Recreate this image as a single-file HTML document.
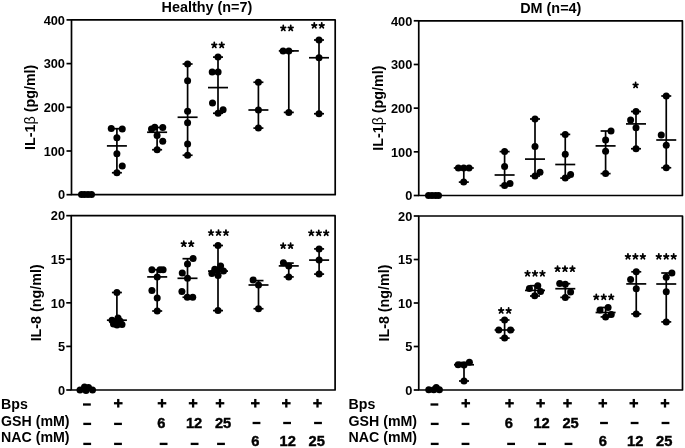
<!DOCTYPE html>
<html><head><meta charset="utf-8"><style>
html,body{margin:0;padding:0;background:#fff;}
svg{display:block;will-change:transform;}
text{font-family:"Liberation Sans",sans-serif;font-weight:bold;fill:#000;}
line{stroke:#000;stroke-linecap:butt;}
</style></head><body>
<svg width="685" height="448" viewBox="0 0 685 448">
<rect width="685" height="448" fill="#fff"/>
<rect x="71.5" y="19.9" width="263.7" height="174.8" fill="none" stroke="#000" stroke-width="1.7" stroke-linejoin="round"/>
<line x1="66.5" y1="194.7" x2="71.5" y2="194.7" stroke-width="1.7"/>
<text x="65" y="199.4" font-size="12.8" text-anchor="end" >0</text>
<line x1="66.5" y1="151" x2="71.5" y2="151" stroke-width="1.7"/>
<text x="65" y="155.7" font-size="12.8" text-anchor="end" >100</text>
<line x1="66.5" y1="107.3" x2="71.5" y2="107.3" stroke-width="1.7"/>
<text x="65" y="112" font-size="12.8" text-anchor="end" >200</text>
<line x1="66.5" y1="63.6" x2="71.5" y2="63.6" stroke-width="1.7"/>
<text x="65" y="68.3" font-size="12.8" text-anchor="end" >300</text>
<line x1="66.5" y1="19.9" x2="71.5" y2="19.9" stroke-width="1.7"/>
<text x="65" y="24.6" font-size="12.8" text-anchor="end" >400</text>
<text x="35.5" y="107.3" font-size="14.3" text-anchor="middle" transform="rotate(-90 35.5 107.3)">IL-1<tspan style="font-weight:normal">β</tspan> (pg/ml)</text>
<rect x="418.75" y="20.8" width="263.65" height="174.7" fill="none" stroke="#000" stroke-width="1.7" stroke-linejoin="round"/>
<line x1="413.75" y1="195.5" x2="418.75" y2="195.5" stroke-width="1.7"/>
<text x="412.3" y="200.2" font-size="12.8" text-anchor="end" >0</text>
<line x1="413.75" y1="151.82" x2="418.75" y2="151.82" stroke-width="1.7"/>
<text x="412.3" y="156.52" font-size="12.8" text-anchor="end" >100</text>
<line x1="413.75" y1="108.15" x2="418.75" y2="108.15" stroke-width="1.7"/>
<text x="412.3" y="112.85" font-size="12.8" text-anchor="end" >200</text>
<line x1="413.75" y1="64.48" x2="418.75" y2="64.48" stroke-width="1.7"/>
<text x="412.3" y="69.18" font-size="12.8" text-anchor="end" >300</text>
<line x1="413.75" y1="20.8" x2="418.75" y2="20.8" stroke-width="1.7"/>
<text x="412.3" y="25.5" font-size="12.8" text-anchor="end" >400</text>
<text x="382.8" y="108.15" font-size="14.3" text-anchor="middle" transform="rotate(-90 382.8 108.15)">IL-1<tspan style="font-weight:normal">β</tspan> (pg/ml)</text>
<rect x="71.25" y="215.65" width="263.85" height="174.35" fill="none" stroke="#000" stroke-width="1.7" stroke-linejoin="round"/>
<line x1="66.25" y1="390" x2="71.25" y2="390" stroke-width="1.7"/>
<text x="65" y="394.7" font-size="12.8" text-anchor="end" >0</text>
<line x1="66.25" y1="346.41" x2="71.25" y2="346.41" stroke-width="1.7"/>
<text x="65" y="351.11" font-size="12.8" text-anchor="end" >5</text>
<line x1="66.25" y1="302.82" x2="71.25" y2="302.82" stroke-width="1.7"/>
<text x="65" y="307.52" font-size="12.8" text-anchor="end" >10</text>
<line x1="66.25" y1="259.24" x2="71.25" y2="259.24" stroke-width="1.7"/>
<text x="65" y="263.94" font-size="12.8" text-anchor="end" >15</text>
<line x1="66.25" y1="215.65" x2="71.25" y2="215.65" stroke-width="1.7"/>
<text x="65" y="220.35" font-size="12.8" text-anchor="end" >20</text>
<text x="41.5" y="302.82" font-size="14.3" text-anchor="middle" transform="rotate(-90 41.5 302.82)">IL-8 (ng/ml)</text>
<rect x="418.75" y="216" width="263.75" height="174" fill="none" stroke="#000" stroke-width="1.7" stroke-linejoin="round"/>
<line x1="413.75" y1="390" x2="418.75" y2="390" stroke-width="1.7"/>
<text x="412.3" y="394.7" font-size="12.8" text-anchor="end" >0</text>
<line x1="413.75" y1="346.5" x2="418.75" y2="346.5" stroke-width="1.7"/>
<text x="412.3" y="351.2" font-size="12.8" text-anchor="end" >5</text>
<line x1="413.75" y1="303" x2="418.75" y2="303" stroke-width="1.7"/>
<text x="412.3" y="307.7" font-size="12.8" text-anchor="end" >10</text>
<line x1="413.75" y1="259.5" x2="418.75" y2="259.5" stroke-width="1.7"/>
<text x="412.3" y="264.2" font-size="12.8" text-anchor="end" >15</text>
<line x1="413.75" y1="216" x2="418.75" y2="216" stroke-width="1.7"/>
<text x="412.3" y="220.7" font-size="12.8" text-anchor="end" >20</text>
<text x="388.8" y="303" font-size="14.3" text-anchor="middle" transform="rotate(-90 388.8 303)">IL-8 (ng/ml)</text>
<text x="161.5" y="12" font-size="14.4" text-anchor="start" >Healthy (n=7)</text>
<text x="520.2" y="13.1" font-size="14.4" text-anchor="start" >DM (n=4)</text>
<circle cx="81.5" cy="194.4" r="3.5"/>
<circle cx="84.5" cy="194.4" r="3.5"/>
<circle cx="88" cy="194.4" r="3.5"/>
<circle cx="91.5" cy="194.4" r="3.5"/>
<line x1="116.9" y1="128.7" x2="116.9" y2="172.75" stroke-width="1.7"/>
<line x1="111.9" y1="128.7" x2="121.9" y2="128.7" stroke-width="1.7"/>
<line x1="111.9" y1="172.75" x2="121.9" y2="172.75" stroke-width="1.7"/>
<line x1="106.9" y1="145.9" x2="126.9" y2="145.9" stroke-width="1.7"/>
<circle cx="111.25" cy="128.5" r="3.5"/>
<circle cx="122.25" cy="129" r="3.5"/>
<circle cx="116.9" cy="137.75" r="3.5"/>
<circle cx="116.9" cy="153.75" r="3.5"/>
<circle cx="122.25" cy="166" r="3.5"/>
<circle cx="116.9" cy="172.75" r="3.5"/>
<line x1="157.1" y1="127.5" x2="157.1" y2="149.75" stroke-width="1.7"/>
<line x1="152.1" y1="127.5" x2="162.1" y2="127.5" stroke-width="1.7"/>
<line x1="152.1" y1="149.75" x2="162.1" y2="149.75" stroke-width="1.7"/>
<line x1="147.1" y1="132.25" x2="167.1" y2="132.25" stroke-width="1.7"/>
<circle cx="151.5" cy="129" r="3.5"/>
<circle cx="154.75" cy="127.25" r="3.5"/>
<circle cx="162.75" cy="127.5" r="3.5"/>
<circle cx="157.1" cy="135.6" r="3.5"/>
<circle cx="162.75" cy="141.25" r="3.5"/>
<circle cx="157.1" cy="149.75" r="3.5"/>
<line x1="187.6" y1="64" x2="187.6" y2="155.25" stroke-width="1.7"/>
<line x1="182.6" y1="64" x2="192.6" y2="64" stroke-width="1.7"/>
<line x1="182.6" y1="155.25" x2="192.6" y2="155.25" stroke-width="1.7"/>
<line x1="177.6" y1="117.25" x2="197.6" y2="117.25" stroke-width="1.7"/>
<circle cx="187.6" cy="64" r="3.5"/>
<circle cx="187.6" cy="80.75" r="3.5"/>
<circle cx="187.6" cy="111.3" r="3.5"/>
<circle cx="187.6" cy="122.75" r="3.5"/>
<circle cx="187.6" cy="144" r="3.5"/>
<circle cx="187.6" cy="155.25" r="3.5"/>
<line x1="218" y1="57.1" x2="218" y2="113.25" stroke-width="1.7"/>
<line x1="213" y1="57.1" x2="223" y2="57.1" stroke-width="1.7"/>
<line x1="213" y1="113.25" x2="223" y2="113.25" stroke-width="1.7"/>
<line x1="208" y1="87.6" x2="228" y2="87.6" stroke-width="1.7"/>
<circle cx="218" cy="57.1" r="3.5"/>
<circle cx="212.2" cy="72" r="3.5"/>
<circle cx="218.1" cy="72" r="3.5"/>
<circle cx="212.5" cy="103.1" r="3.5"/>
<circle cx="223.1" cy="109.75" r="3.5"/>
<circle cx="218.1" cy="113.25" r="3.5"/>
<line x1="258.4" y1="82.25" x2="258.4" y2="128.1" stroke-width="1.7"/>
<line x1="253.4" y1="82.25" x2="263.4" y2="82.25" stroke-width="1.7"/>
<line x1="253.4" y1="128.1" x2="263.4" y2="128.1" stroke-width="1.7"/>
<line x1="248.4" y1="110" x2="268.4" y2="110" stroke-width="1.7"/>
<circle cx="258.4" cy="82.25" r="3.5"/>
<circle cx="258.4" cy="110" r="3.5"/>
<circle cx="258.4" cy="128.1" r="3.5"/>
<line x1="288.8" y1="50.9" x2="288.8" y2="112.4" stroke-width="1.7"/>
<line x1="283.8" y1="50.9" x2="293.8" y2="50.9" stroke-width="1.7"/>
<line x1="283.8" y1="112.4" x2="293.8" y2="112.4" stroke-width="1.7"/>
<line x1="278.8" y1="50.9" x2="298.8" y2="50.9" stroke-width="1.7"/>
<circle cx="283.1" cy="50.9" r="3.5"/>
<circle cx="288.8" cy="50.9" r="3.5"/>
<circle cx="288.8" cy="112.4" r="3.5"/>
<line x1="319" y1="40" x2="319" y2="113.75" stroke-width="1.7"/>
<line x1="314" y1="40" x2="324" y2="40" stroke-width="1.7"/>
<line x1="314" y1="113.75" x2="324" y2="113.75" stroke-width="1.7"/>
<line x1="309" y1="57.75" x2="329" y2="57.75" stroke-width="1.7"/>
<circle cx="319" cy="40" r="3.5"/>
<circle cx="319" cy="57.75" r="3.5"/>
<circle cx="319" cy="113.75" r="3.5"/>
<path d="M214.28 45.2L214.28 42.45M214.28 45.2L216.61 44.44M214.28 45.2L215.89 47.42M214.28 45.2L212.66 47.42M214.28 45.2L211.94 44.44" stroke="#000" stroke-width="1.75" stroke-linecap="round" fill="none"/>
<path d="M221.72 45.2L221.72 42.45M221.72 45.2L224.06 44.44M221.72 45.2L223.34 47.42M221.72 45.2L220.11 47.42M221.72 45.2L219.39 44.44" stroke="#000" stroke-width="1.75" stroke-linecap="round" fill="none"/>
<path d="M283.27 28.2L283.27 25.45M283.27 28.2L285.61 27.44M283.27 28.2L284.89 30.42M283.27 28.2L281.66 30.42M283.27 28.2L280.94 27.44" stroke="#000" stroke-width="1.75" stroke-linecap="round" fill="none"/>
<path d="M290.73 28.2L290.73 25.45M290.73 28.2L293.06 27.44M290.73 28.2L292.34 30.42M290.73 28.2L289.11 30.42M290.73 28.2L288.39 27.44" stroke="#000" stroke-width="1.75" stroke-linecap="round" fill="none"/>
<path d="M314.27 25.6L314.27 22.85M314.27 25.6L316.61 24.84M314.27 25.6L315.89 27.82M314.27 25.6L312.66 27.82M314.27 25.6L311.94 24.84" stroke="#000" stroke-width="1.75" stroke-linecap="round" fill="none"/>
<path d="M321.73 25.6L321.73 22.85M321.73 25.6L324.06 24.84M321.73 25.6L323.34 27.82M321.73 25.6L320.11 27.82M321.73 25.6L319.39 24.84" stroke="#000" stroke-width="1.75" stroke-linecap="round" fill="none"/>
<circle cx="428.5" cy="195.6" r="3.5"/>
<circle cx="432" cy="195.6" r="3.5"/>
<circle cx="435.5" cy="195.6" r="3.5"/>
<circle cx="438.5" cy="195.6" r="3.5"/>
<line x1="463.8" y1="168" x2="463.8" y2="182.1" stroke-width="1.7"/>
<line x1="458.8" y1="168" x2="468.8" y2="168" stroke-width="1.7"/>
<line x1="458.8" y1="182.1" x2="468.8" y2="182.1" stroke-width="1.7"/>
<line x1="453.8" y1="168" x2="473.8" y2="168" stroke-width="1.7"/>
<circle cx="458.4" cy="168" r="3.5"/>
<circle cx="463.7" cy="168" r="3.5"/>
<circle cx="469" cy="168" r="3.5"/>
<circle cx="463.7" cy="182.1" r="3.5"/>
<line x1="504.6" y1="151.6" x2="504.6" y2="185.6" stroke-width="1.7"/>
<line x1="499.6" y1="151.6" x2="509.6" y2="151.6" stroke-width="1.7"/>
<line x1="499.6" y1="185.6" x2="509.6" y2="185.6" stroke-width="1.7"/>
<line x1="494.6" y1="175" x2="514.6" y2="175" stroke-width="1.7"/>
<circle cx="504.6" cy="151.6" r="3.5"/>
<circle cx="504.6" cy="166.6" r="3.5"/>
<circle cx="510" cy="183.5" r="3.5"/>
<circle cx="504.6" cy="185.6" r="3.5"/>
<line x1="535" y1="119" x2="535" y2="176" stroke-width="1.7"/>
<line x1="530" y1="119" x2="540" y2="119" stroke-width="1.7"/>
<line x1="530" y1="176" x2="540" y2="176" stroke-width="1.7"/>
<line x1="525" y1="159.1" x2="545" y2="159.1" stroke-width="1.7"/>
<circle cx="535" cy="119" r="3.5"/>
<circle cx="535" cy="146.5" r="3.5"/>
<circle cx="540" cy="172.25" r="3.5"/>
<circle cx="535" cy="176" r="3.5"/>
<line x1="565.25" y1="134.4" x2="565.25" y2="178.1" stroke-width="1.7"/>
<line x1="560.25" y1="134.4" x2="570.25" y2="134.4" stroke-width="1.7"/>
<line x1="560.25" y1="178.1" x2="570.25" y2="178.1" stroke-width="1.7"/>
<line x1="555.25" y1="164.5" x2="575.25" y2="164.5" stroke-width="1.7"/>
<circle cx="565.25" cy="134.4" r="3.5"/>
<circle cx="565.25" cy="154.2" r="3.5"/>
<circle cx="570.6" cy="174.6" r="3.5"/>
<circle cx="565.25" cy="178.1" r="3.5"/>
<line x1="605.6" y1="131" x2="605.6" y2="173.6" stroke-width="1.7"/>
<line x1="600.6" y1="131" x2="610.6" y2="131" stroke-width="1.7"/>
<line x1="600.6" y1="173.6" x2="610.6" y2="173.6" stroke-width="1.7"/>
<line x1="595.6" y1="145.9" x2="615.6" y2="145.9" stroke-width="1.7"/>
<circle cx="611" cy="131" r="3.5"/>
<circle cx="605.6" cy="140" r="3.5"/>
<circle cx="605.6" cy="151.25" r="3.5"/>
<circle cx="605.6" cy="173.6" r="3.5"/>
<line x1="636" y1="111.5" x2="636" y2="148.75" stroke-width="1.7"/>
<line x1="631" y1="111.5" x2="641" y2="111.5" stroke-width="1.7"/>
<line x1="631" y1="148.75" x2="641" y2="148.75" stroke-width="1.7"/>
<line x1="626" y1="123.9" x2="646" y2="123.9" stroke-width="1.7"/>
<circle cx="636" cy="111.5" r="3.5"/>
<circle cx="630.6" cy="119.9" r="3.5"/>
<circle cx="636" cy="127.75" r="3.5"/>
<circle cx="636" cy="148.75" r="3.5"/>
<line x1="666.25" y1="96" x2="666.25" y2="167.75" stroke-width="1.7"/>
<line x1="661.25" y1="96" x2="671.25" y2="96" stroke-width="1.7"/>
<line x1="661.25" y1="167.75" x2="671.25" y2="167.75" stroke-width="1.7"/>
<line x1="656.25" y1="140" x2="676.25" y2="140" stroke-width="1.7"/>
<circle cx="666.25" cy="96" r="3.5"/>
<circle cx="661.25" cy="135" r="3.5"/>
<circle cx="666.25" cy="145.25" r="3.5"/>
<circle cx="666.25" cy="167.75" r="3.5"/>
<path d="M635.6 85.2L635.6 82.45M635.6 85.2L637.93 84.44M635.6 85.2L637.22 87.42M635.6 85.2L633.98 87.42M635.6 85.2L633.27 84.44" stroke="#000" stroke-width="1.75" stroke-linecap="round" fill="none"/>
<circle cx="80" cy="390" r="3.5"/>
<circle cx="84.5" cy="387" r="3.5"/>
<circle cx="88.5" cy="387.5" r="3.5"/>
<circle cx="92.5" cy="390" r="3.5"/>
<circle cx="86" cy="390.5" r="3.5"/>
<line x1="116.9" y1="292.5" x2="116.9" y2="325" stroke-width="1.7"/>
<line x1="111.9" y1="292.5" x2="121.9" y2="292.5" stroke-width="1.7"/>
<line x1="111.9" y1="325" x2="121.9" y2="325" stroke-width="1.7"/>
<line x1="106.9" y1="320.2" x2="126.9" y2="320.2" stroke-width="1.7"/>
<circle cx="116.9" cy="292.5" r="3.5"/>
<circle cx="112" cy="320.3" r="3.5"/>
<circle cx="118" cy="318" r="3.5"/>
<circle cx="115.5" cy="321.5" r="3.5"/>
<circle cx="113.5" cy="324" r="3.5"/>
<circle cx="117" cy="325" r="3.5"/>
<circle cx="122" cy="324.5" r="3.5"/>
<circle cx="120" cy="321" r="3.5"/>
<line x1="157.2" y1="269.75" x2="157.2" y2="311" stroke-width="1.7"/>
<line x1="152.2" y1="269.75" x2="162.2" y2="269.75" stroke-width="1.7"/>
<line x1="152.2" y1="311" x2="162.2" y2="311" stroke-width="1.7"/>
<line x1="147.2" y1="276.9" x2="167.2" y2="276.9" stroke-width="1.7"/>
<circle cx="151.9" cy="269.75" r="3.5"/>
<circle cx="160" cy="269.75" r="3.5"/>
<circle cx="163.1" cy="269.75" r="3.5"/>
<circle cx="157.2" cy="277.1" r="3.5"/>
<circle cx="151.9" cy="290.5" r="3.5"/>
<circle cx="157.2" cy="297.9" r="3.5"/>
<circle cx="157.2" cy="311" r="3.5"/>
<line x1="187.5" y1="258.7" x2="187.5" y2="297.25" stroke-width="1.7"/>
<line x1="182.5" y1="258.7" x2="192.5" y2="258.7" stroke-width="1.7"/>
<line x1="182.5" y1="297.25" x2="192.5" y2="297.25" stroke-width="1.7"/>
<line x1="177.5" y1="278.3" x2="197.5" y2="278.3" stroke-width="1.7"/>
<circle cx="193.1" cy="258.5" r="3.5"/>
<circle cx="187.5" cy="264" r="3.5"/>
<circle cx="182.25" cy="273.1" r="3.5"/>
<circle cx="187.5" cy="278.3" r="3.5"/>
<circle cx="181.9" cy="291.4" r="3.5"/>
<circle cx="187.3" cy="297.25" r="3.5"/>
<circle cx="192.75" cy="297.25" r="3.5"/>
<line x1="218" y1="245.5" x2="218" y2="310.6" stroke-width="1.7"/>
<line x1="213" y1="245.5" x2="223" y2="245.5" stroke-width="1.7"/>
<line x1="213" y1="310.6" x2="223" y2="310.6" stroke-width="1.7"/>
<line x1="208" y1="271.1" x2="228" y2="271.1" stroke-width="1.7"/>
<circle cx="218" cy="245.5" r="3.5"/>
<circle cx="214.75" cy="269.25" r="3.5"/>
<circle cx="220.6" cy="266.1" r="3.5"/>
<circle cx="223.5" cy="271.1" r="3.5"/>
<circle cx="211.9" cy="273.6" r="3.5"/>
<circle cx="218.1" cy="275.5" r="3.5"/>
<circle cx="217.5" cy="270.5" r="3.5"/>
<circle cx="218" cy="310.6" r="3.5"/>
<line x1="258.5" y1="280.6" x2="258.5" y2="308.75" stroke-width="1.7"/>
<line x1="253.5" y1="280.6" x2="263.5" y2="280.6" stroke-width="1.7"/>
<line x1="253.5" y1="308.75" x2="263.5" y2="308.75" stroke-width="1.7"/>
<line x1="248.5" y1="285" x2="268.5" y2="285" stroke-width="1.7"/>
<circle cx="253.1" cy="280" r="3.5"/>
<circle cx="258.5" cy="285" r="3.5"/>
<circle cx="258.5" cy="308.75" r="3.5"/>
<line x1="288.75" y1="263.1" x2="288.75" y2="276.9" stroke-width="1.7"/>
<line x1="283.75" y1="263.1" x2="293.75" y2="263.1" stroke-width="1.7"/>
<line x1="283.75" y1="276.9" x2="293.75" y2="276.9" stroke-width="1.7"/>
<line x1="278.75" y1="265.9" x2="298.75" y2="265.9" stroke-width="1.7"/>
<circle cx="283.4" cy="262.8" r="3.5"/>
<circle cx="288.75" cy="265.9" r="3.5"/>
<circle cx="288.75" cy="276.9" r="3.5"/>
<line x1="319.1" y1="248.9" x2="319.1" y2="274.1" stroke-width="1.7"/>
<line x1="314.1" y1="248.9" x2="324.1" y2="248.9" stroke-width="1.7"/>
<line x1="314.1" y1="274.1" x2="324.1" y2="274.1" stroke-width="1.7"/>
<line x1="309.1" y1="260.1" x2="329.1" y2="260.1" stroke-width="1.7"/>
<circle cx="319.1" cy="248.9" r="3.5"/>
<circle cx="319.1" cy="260.1" r="3.5"/>
<circle cx="319.1" cy="274.1" r="3.5"/>
<path d="M183.78 243.95L183.78 241.2M183.78 243.95L186.11 243.19M183.78 243.95L185.39 246.17M183.78 243.95L182.16 246.17M183.78 243.95L181.44 243.19" stroke="#000" stroke-width="1.75" stroke-linecap="round" fill="none"/>
<path d="M191.22 243.95L191.22 241.2M191.22 243.95L193.56 243.19M191.22 243.95L192.84 246.17M191.22 243.95L189.61 246.17M191.22 243.95L188.89 243.19" stroke="#000" stroke-width="1.75" stroke-linecap="round" fill="none"/>
<path d="M211.05 232.8L211.05 230.05M211.05 232.8L213.38 232.04M211.05 232.8L212.67 235.02M211.05 232.8L209.43 235.02M211.05 232.8L208.72 232.04" stroke="#000" stroke-width="1.75" stroke-linecap="round" fill="none"/>
<path d="M218.5 232.8L218.5 230.05M218.5 232.8L220.83 232.04M218.5 232.8L220.12 235.02M218.5 232.8L216.88 235.02M218.5 232.8L216.17 232.04" stroke="#000" stroke-width="1.75" stroke-linecap="round" fill="none"/>
<path d="M225.95 232.8L225.95 230.05M225.95 232.8L228.28 232.04M225.95 232.8L227.57 235.02M225.95 232.8L224.33 235.02M225.95 232.8L223.62 232.04" stroke="#000" stroke-width="1.75" stroke-linecap="round" fill="none"/>
<path d="M283.17 245.9L283.17 243.15M283.17 245.9L285.51 245.14M283.17 245.9L284.79 248.12M283.17 245.9L281.56 248.12M283.17 245.9L280.84 245.14" stroke="#000" stroke-width="1.75" stroke-linecap="round" fill="none"/>
<path d="M290.62 245.9L290.62 243.15M290.62 245.9L292.96 245.14M290.62 245.9L292.24 248.12M290.62 245.9L289.01 248.12M290.62 245.9L288.29 245.14" stroke="#000" stroke-width="1.75" stroke-linecap="round" fill="none"/>
<path d="M311.3 233L311.3 230.25M311.3 233L313.63 232.24M311.3 233L312.92 235.22M311.3 233L309.68 235.22M311.3 233L308.97 232.24" stroke="#000" stroke-width="1.75" stroke-linecap="round" fill="none"/>
<path d="M318.75 233L318.75 230.25M318.75 233L321.08 232.24M318.75 233L320.37 235.22M318.75 233L317.13 235.22M318.75 233L316.42 232.24" stroke="#000" stroke-width="1.75" stroke-linecap="round" fill="none"/>
<path d="M326.2 233L326.2 230.25M326.2 233L328.53 232.24M326.2 233L327.82 235.22M326.2 233L324.58 235.22M326.2 233L323.87 232.24" stroke="#000" stroke-width="1.75" stroke-linecap="round" fill="none"/>
<circle cx="428.75" cy="389.75" r="3.5"/>
<circle cx="433.75" cy="389.75" r="3.5"/>
<circle cx="436.25" cy="387.5" r="3.5"/>
<circle cx="439.4" cy="389.75" r="3.5"/>
<line x1="464" y1="362.5" x2="464" y2="381" stroke-width="1.7"/>
<line x1="459" y1="362.5" x2="469" y2="362.5" stroke-width="1.7"/>
<line x1="459" y1="381" x2="469" y2="381" stroke-width="1.7"/>
<line x1="454" y1="364.75" x2="474" y2="364.75" stroke-width="1.7"/>
<circle cx="458.1" cy="364.75" r="3.5"/>
<circle cx="464" cy="365" r="3.5"/>
<circle cx="469.4" cy="362.25" r="3.5"/>
<circle cx="464" cy="381" r="3.5"/>
<line x1="504.6" y1="320" x2="504.6" y2="338.1" stroke-width="1.7"/>
<line x1="499.6" y1="320" x2="509.6" y2="320" stroke-width="1.7"/>
<line x1="499.6" y1="338.1" x2="509.6" y2="338.1" stroke-width="1.7"/>
<line x1="494.6" y1="330" x2="514.6" y2="330" stroke-width="1.7"/>
<circle cx="504.6" cy="320" r="3.5"/>
<circle cx="498.75" cy="330" r="3.5"/>
<circle cx="510.6" cy="330" r="3.5"/>
<circle cx="504.6" cy="338.1" r="3.5"/>
<line x1="535" y1="285.7" x2="535" y2="296" stroke-width="1.7"/>
<line x1="530" y1="285.7" x2="540" y2="285.7" stroke-width="1.7"/>
<line x1="530" y1="296" x2="540" y2="296" stroke-width="1.7"/>
<line x1="525" y1="290.4" x2="545" y2="290.4" stroke-width="1.7"/>
<circle cx="529.4" cy="288.5" r="3.5"/>
<circle cx="537.8" cy="285.7" r="3.5"/>
<circle cx="540.6" cy="291.6" r="3.5"/>
<circle cx="534.7" cy="295.7" r="3.5"/>
<line x1="565.3" y1="283.7" x2="565.3" y2="297.4" stroke-width="1.7"/>
<line x1="560.3" y1="283.7" x2="570.3" y2="283.7" stroke-width="1.7"/>
<line x1="560.3" y1="297.4" x2="570.3" y2="297.4" stroke-width="1.7"/>
<line x1="555.3" y1="288.7" x2="575.3" y2="288.7" stroke-width="1.7"/>
<circle cx="559.7" cy="283.4" r="3.5"/>
<circle cx="565.3" cy="284.3" r="3.5"/>
<circle cx="570.6" cy="292.1" r="3.5"/>
<circle cx="565.3" cy="297.4" r="3.5"/>
<line x1="605.6" y1="307.5" x2="605.6" y2="316.9" stroke-width="1.7"/>
<line x1="600.6" y1="307.5" x2="610.6" y2="307.5" stroke-width="1.7"/>
<line x1="600.6" y1="316.9" x2="610.6" y2="316.9" stroke-width="1.7"/>
<line x1="595.6" y1="312.5" x2="615.6" y2="312.5" stroke-width="1.7"/>
<circle cx="600" cy="310" r="3.5"/>
<circle cx="608.1" cy="307.5" r="3.5"/>
<circle cx="611.25" cy="314.4" r="3.5"/>
<circle cx="605.6" cy="316.9" r="3.5"/>
<line x1="636.25" y1="271.8" x2="636.25" y2="313.9" stroke-width="1.7"/>
<line x1="631.25" y1="271.8" x2="641.25" y2="271.8" stroke-width="1.7"/>
<line x1="631.25" y1="313.9" x2="641.25" y2="313.9" stroke-width="1.7"/>
<line x1="626.25" y1="283.9" x2="646.25" y2="283.9" stroke-width="1.7"/>
<circle cx="636.25" cy="271.8" r="3.5"/>
<circle cx="630.6" cy="279.5" r="3.5"/>
<circle cx="636.25" cy="288.8" r="3.5"/>
<circle cx="636.25" cy="313.9" r="3.5"/>
<line x1="666.25" y1="273" x2="666.25" y2="321.9" stroke-width="1.7"/>
<line x1="661.25" y1="273" x2="671.25" y2="273" stroke-width="1.7"/>
<line x1="661.25" y1="321.9" x2="671.25" y2="321.9" stroke-width="1.7"/>
<line x1="656.25" y1="284" x2="676.25" y2="284" stroke-width="1.7"/>
<circle cx="671.9" cy="273" r="3.5"/>
<circle cx="666.25" cy="277.2" r="3.5"/>
<circle cx="666.25" cy="291.7" r="3.5"/>
<circle cx="666.25" cy="321.9" r="3.5"/>
<path d="M501.17 310.7L501.17 307.95M501.17 310.7L503.51 309.94M501.17 310.7L502.79 312.92M501.17 310.7L499.56 312.92M501.17 310.7L498.84 309.94" stroke="#000" stroke-width="1.75" stroke-linecap="round" fill="none"/>
<path d="M508.62 310.7L508.62 307.95M508.62 310.7L510.96 309.94M508.62 310.7L510.24 312.92M508.62 310.7L507.01 312.92M508.62 310.7L506.29 309.94" stroke="#000" stroke-width="1.75" stroke-linecap="round" fill="none"/>
<path d="M527.55 273.5L527.55 270.75M527.55 273.5L529.88 272.74M527.55 273.5L529.17 275.72M527.55 273.5L525.93 275.72M527.55 273.5L525.22 272.74" stroke="#000" stroke-width="1.75" stroke-linecap="round" fill="none"/>
<path d="M535 273.5L535 270.75M535 273.5L537.33 272.74M535 273.5L536.62 275.72M535 273.5L533.38 275.72M535 273.5L532.67 272.74" stroke="#000" stroke-width="1.75" stroke-linecap="round" fill="none"/>
<path d="M542.45 273.5L542.45 270.75M542.45 273.5L544.78 272.74M542.45 273.5L544.07 275.72M542.45 273.5L540.83 275.72M542.45 273.5L540.12 272.74" stroke="#000" stroke-width="1.75" stroke-linecap="round" fill="none"/>
<path d="M557.55 268.95L557.55 266.2M557.55 268.95L559.88 268.19M557.55 268.95L559.17 271.17M557.55 268.95L555.93 271.17M557.55 268.95L555.22 268.19" stroke="#000" stroke-width="1.75" stroke-linecap="round" fill="none"/>
<path d="M565 268.95L565 266.2M565 268.95L567.33 268.19M565 268.95L566.62 271.17M565 268.95L563.38 271.17M565 268.95L562.67 268.19" stroke="#000" stroke-width="1.75" stroke-linecap="round" fill="none"/>
<path d="M572.45 268.95L572.45 266.2M572.45 268.95L574.78 268.19M572.45 268.95L574.07 271.17M572.45 268.95L570.83 271.17M572.45 268.95L570.12 268.19" stroke="#000" stroke-width="1.75" stroke-linecap="round" fill="none"/>
<path d="M596.3 297.1L596.3 294.35M596.3 297.1L598.63 296.34M596.3 297.1L597.92 299.32M596.3 297.1L594.68 299.32M596.3 297.1L593.97 296.34" stroke="#000" stroke-width="1.75" stroke-linecap="round" fill="none"/>
<path d="M603.75 297.1L603.75 294.35M603.75 297.1L606.08 296.34M603.75 297.1L605.37 299.32M603.75 297.1L602.13 299.32M603.75 297.1L601.42 296.34" stroke="#000" stroke-width="1.75" stroke-linecap="round" fill="none"/>
<path d="M611.2 297.1L611.2 294.35M611.2 297.1L613.53 296.34M611.2 297.1L612.82 299.32M611.2 297.1L609.58 299.32M611.2 297.1L608.87 296.34" stroke="#000" stroke-width="1.75" stroke-linecap="round" fill="none"/>
<path d="M627.95 256.6L627.95 253.85M627.95 256.6L630.28 255.84M627.95 256.6L629.57 258.82M627.95 256.6L626.33 258.82M627.95 256.6L625.62 255.84" stroke="#000" stroke-width="1.75" stroke-linecap="round" fill="none"/>
<path d="M635.4 256.6L635.4 253.85M635.4 256.6L637.73 255.84M635.4 256.6L637.02 258.82M635.4 256.6L633.78 258.82M635.4 256.6L633.07 255.84" stroke="#000" stroke-width="1.75" stroke-linecap="round" fill="none"/>
<path d="M642.85 256.6L642.85 253.85M642.85 256.6L645.18 255.84M642.85 256.6L644.47 258.82M642.85 256.6L641.23 258.82M642.85 256.6L640.52 255.84" stroke="#000" stroke-width="1.75" stroke-linecap="round" fill="none"/>
<path d="M658.8 256.6L658.8 253.85M658.8 256.6L661.13 255.84M658.8 256.6L660.42 258.82M658.8 256.6L657.18 258.82M658.8 256.6L656.47 255.84" stroke="#000" stroke-width="1.75" stroke-linecap="round" fill="none"/>
<path d="M666.25 256.6L666.25 253.85M666.25 256.6L668.58 255.84M666.25 256.6L667.87 258.82M666.25 256.6L664.63 258.82M666.25 256.6L663.92 255.84" stroke="#000" stroke-width="1.75" stroke-linecap="round" fill="none"/>
<path d="M673.7 256.6L673.7 253.85M673.7 256.6L676.03 255.84M673.7 256.6L675.32 258.82M673.7 256.6L672.08 258.82M673.7 256.6L671.37 255.84" stroke="#000" stroke-width="1.75" stroke-linecap="round" fill="none"/>
<text x="1" y="409.1" font-size="14.2" text-anchor="start" >Bps</text>
<text x="1" y="425.9" font-size="14.2" text-anchor="start" >GSH (mM)</text>
<text x="1" y="442.3" font-size="14.2" text-anchor="start" >NAC (mM)</text>
<rect x="83" y="403.35" width="7.8" height="2.3"/>
<rect x="113.95" y="402.1" width="8.6" height="2.3"/>
<rect x="117.1" y="398.95" width="2.3" height="8.6"/>
<rect x="157.7" y="402.1" width="8.6" height="2.3"/>
<rect x="160.85" y="398.95" width="2.3" height="8.6"/>
<rect x="188.8" y="402.1" width="8.6" height="2.3"/>
<rect x="191.95" y="398.95" width="2.3" height="8.6"/>
<rect x="215.7" y="402.1" width="8.6" height="2.3"/>
<rect x="218.85" y="398.95" width="2.3" height="8.6"/>
<rect x="251" y="402.1" width="8.6" height="2.3"/>
<rect x="254.15" y="398.95" width="2.3" height="8.6"/>
<rect x="282" y="402.1" width="8.6" height="2.3"/>
<rect x="285.15" y="398.95" width="2.3" height="8.6"/>
<rect x="313.2" y="402.1" width="8.6" height="2.3"/>
<rect x="316.35" y="398.95" width="2.3" height="8.6"/>
<rect x="83.3" y="422.75" width="7.8" height="2.3"/>
<rect x="114.1" y="422.75" width="7.8" height="2.3"/>
<rect x="252.6" y="421.85" width="7.8" height="2.3"/>
<rect x="283.2" y="421.85" width="7.8" height="2.3"/>
<rect x="314.1" y="421.85" width="7.8" height="2.3"/>
<text x="161.4" y="427.9" font-size="14.7" text-anchor="middle" stroke="#000" stroke-width="0.4">6</text>
<text x="194.1" y="427.9" font-size="14.7" text-anchor="middle" stroke="#000" stroke-width="0.4">12</text>
<text x="223.1" y="427.9" font-size="14.7" text-anchor="middle" stroke="#000" stroke-width="0.4">25</text>
<rect x="83.3" y="442.75" width="7.8" height="2.3"/>
<rect x="114.1" y="442.75" width="7.8" height="2.3"/>
<rect x="159.7" y="442.75" width="7.8" height="2.3"/>
<rect x="190.7" y="442.75" width="7.8" height="2.3"/>
<rect x="217.1" y="442.75" width="7.8" height="2.3"/>
<text x="255.4" y="445.7" font-size="14.7" text-anchor="middle" stroke="#000" stroke-width="0.4">6</text>
<text x="287.7" y="445.7" font-size="14.7" text-anchor="middle" stroke="#000" stroke-width="0.4">12</text>
<text x="316.7" y="445.7" font-size="14.7" text-anchor="middle" stroke="#000" stroke-width="0.4">25</text>
<text x="348.5" y="409.1" font-size="14.2" text-anchor="start" >Bps</text>
<text x="348.5" y="425.9" font-size="14.2" text-anchor="start" >GSH (mM)</text>
<text x="348.5" y="442.3" font-size="14.2" text-anchor="start" >NAC (mM)</text>
<rect x="430.5" y="403.35" width="7.8" height="2.3"/>
<rect x="461.45" y="402.1" width="8.6" height="2.3"/>
<rect x="464.6" y="398.95" width="2.3" height="8.6"/>
<rect x="505.2" y="402.1" width="8.6" height="2.3"/>
<rect x="508.35" y="398.95" width="2.3" height="8.6"/>
<rect x="536.3" y="402.1" width="8.6" height="2.3"/>
<rect x="539.45" y="398.95" width="2.3" height="8.6"/>
<rect x="563.2" y="402.1" width="8.6" height="2.3"/>
<rect x="566.35" y="398.95" width="2.3" height="8.6"/>
<rect x="598.5" y="402.1" width="8.6" height="2.3"/>
<rect x="601.65" y="398.95" width="2.3" height="8.6"/>
<rect x="629.5" y="402.1" width="8.6" height="2.3"/>
<rect x="632.65" y="398.95" width="2.3" height="8.6"/>
<rect x="660.7" y="402.1" width="8.6" height="2.3"/>
<rect x="663.85" y="398.95" width="2.3" height="8.6"/>
<rect x="430.8" y="422.75" width="7.8" height="2.3"/>
<rect x="461.6" y="422.75" width="7.8" height="2.3"/>
<rect x="600.1" y="421.85" width="7.8" height="2.3"/>
<rect x="630.7" y="421.85" width="7.8" height="2.3"/>
<rect x="661.6" y="421.85" width="7.8" height="2.3"/>
<text x="508.9" y="427.9" font-size="14.7" text-anchor="middle" stroke="#000" stroke-width="0.4">6</text>
<text x="541.6" y="427.9" font-size="14.7" text-anchor="middle" stroke="#000" stroke-width="0.4">12</text>
<text x="570.6" y="427.9" font-size="14.7" text-anchor="middle" stroke="#000" stroke-width="0.4">25</text>
<rect x="430.8" y="442.75" width="7.8" height="2.3"/>
<rect x="461.6" y="442.75" width="7.8" height="2.3"/>
<rect x="507.2" y="442.75" width="7.8" height="2.3"/>
<rect x="538.2" y="442.75" width="7.8" height="2.3"/>
<rect x="564.6" y="442.75" width="7.8" height="2.3"/>
<text x="602.9" y="445.7" font-size="14.7" text-anchor="middle" stroke="#000" stroke-width="0.4">6</text>
<text x="635.2" y="445.7" font-size="14.7" text-anchor="middle" stroke="#000" stroke-width="0.4">12</text>
<text x="664.2" y="445.7" font-size="14.7" text-anchor="middle" stroke="#000" stroke-width="0.4">25</text>
</svg></body></html>
